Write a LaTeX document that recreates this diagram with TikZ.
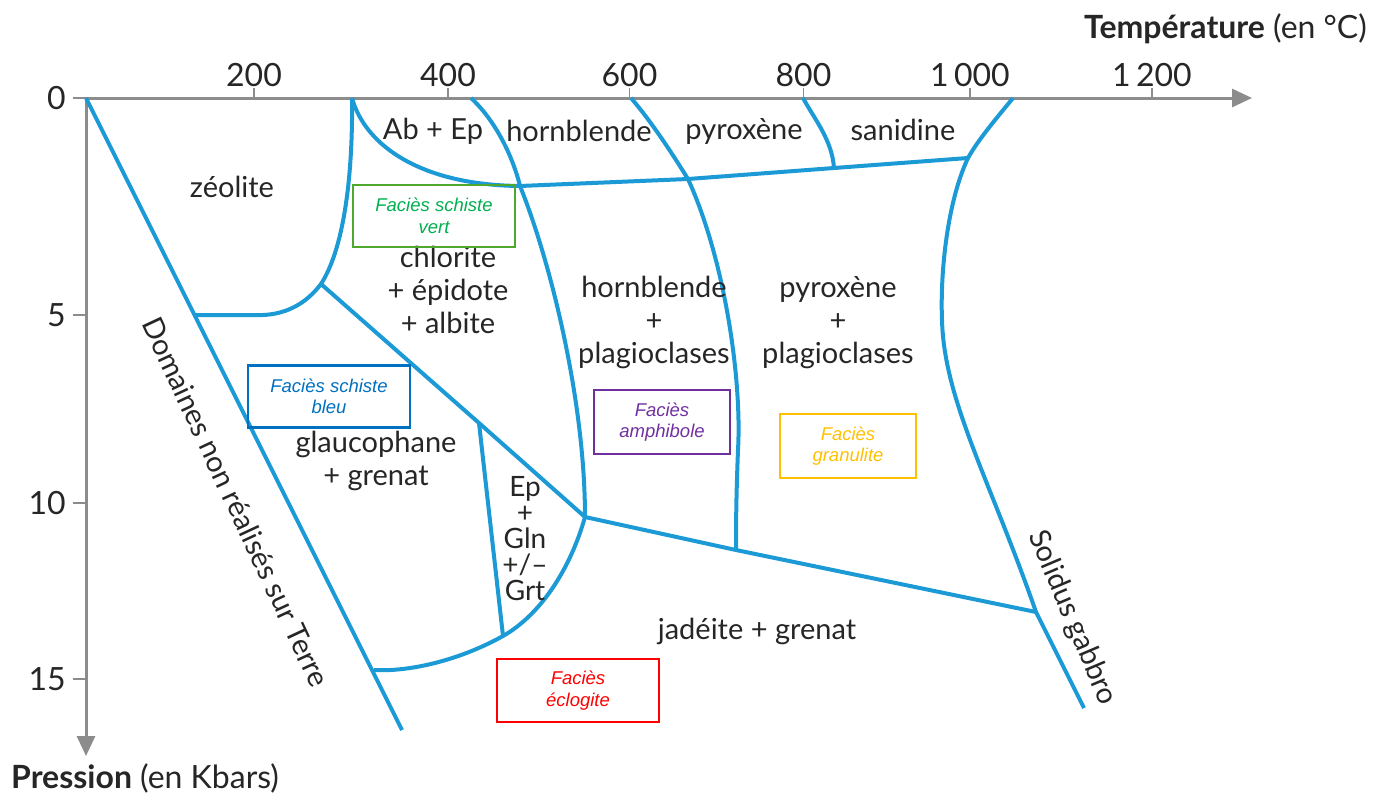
\documentclass[tikz,border=0pt]{standalone}
\usepackage{fontspec}
\setmainfont{Lato}
\newfontfamily\faciesfont{Liberation Sans}
\usetikzlibrary{arrows.meta}
\definecolor{bound}{HTML}{1B9AD6}
\definecolor{axisgray}{HTML}{8C8C8C}
\definecolor{fgreen}{HTML}{00B050}
\definecolor{fgreenbox}{HTML}{4EA72E}
\definecolor{fblue}{HTML}{0070C0}
\definecolor{fpurple}{HTML}{7030A0}
\definecolor{fyellow}{HTML}{FFC000}
\definecolor{fred}{HTML}{FF0000}
\tikzset{
  axisline/.style={draw=axisgray, line width=3pt, -{Triangle[length=20pt,width=18pt]}},
  tickmark/.style={draw=axisgray, line width=1.5pt},
  ticklabel/.style={font=\fontsize{32}{36}\selectfont, text=black!85, inner sep=0pt},
  axistitle/.style={font=\fontsize{32}{38}\selectfont, text=black!85, inner sep=0pt},
  boundary/.style={draw=bound, line width=4pt, line join=round},
  zone/.style={font=\fontsize{29}{33}\selectfont, text=black!85, align=center, inner sep=0pt},
  faciesbox/.style={draw=#1, line width=2.5pt, text=#1, minimum width=162pt, minimum height=62pt,
    font=\faciesfont\itshape\fontsize{18.5}{21.5}\selectfont, align=center, inner sep=0pt},
}
\begin{document}
\begin{tikzpicture}[x=1pt, y=-1pt]
\useasboundingbox (0,0) rectangle (1400,796);

% axes
\coordinate (O) at (86,98);
\coordinate (Tend) at (1252,98);
\coordinate (Pend) at (86,756);
\draw[axisline] (O) -- (Tend);
\draw[axisline] (O) -- (Pend);

% temperature ticks
\foreach \x/\t in {254/200, 448/400, 629.5/600, 803.5/800, 970/1\,000, 1152/1\,200} {
  \draw[tickmark] (\x,98) -- (\x,88);
  \node[ticklabel, anchor=base] at (\x,86) {\t};
}
% pressure ticks
\foreach \y/\t in {98/0, 315/5, 503/10, 679/15} {
  \draw[tickmark] (73,\y) -- (86,\y);
  \node[ticklabel, anchor=east] at (66,\y) {\t};
}
\node[axistitle, anchor=base west] (tlab) at (1084,38) {\textbf{Température} (en °C)};
\node[axistitle, anchor=base west] (plab) at (11,788) {\textbf{Pression} (en Kbars)};

% junctions of the facies boundaries
\coordinate (Z0) at (352,98);
\coordinate (J1) at (321,284);
\coordinate (Z5) at (194,315);
\coordinate (J2) at (479,423);
\coordinate (J3) at (585,517);
\coordinate (J4) at (503,636);
\coordinate (J5) at (374,670);
\coordinate (D1) at (402,730);
\coordinate (H0) at (471,98);
\coordinate (J6) at (520,186);
\coordinate (P0) at (631,98);
\coordinate (J7) at (688,179);
\coordinate (J8) at (736,550);
\coordinate (S0) at (803,98);
\coordinate (J9) at (834,168);
\coordinate (G0) at (1013,98);
\coordinate (J10) at (968,158);
\coordinate (J11) at (1036,612);
\coordinate (G1) at (1084,708);

% boundaries
\draw[boundary] (O) -- (D1);
\draw[boundary] (Z0) .. controls (353,180) and (343,250) .. (J1)
                     .. controls (305,305) and (285,314) .. (263,315) -- (Z5);
\draw[boundary] (Z0) .. controls (365,145) and (420,185) .. (J6);
\draw[boundary] (J6) -- (J7) -- (J9) -- (J10);
\draw[boundary] (H0) .. controls (500,125) and (515,165) .. (J6)
                     .. controls (550,260) and (585,400) .. (J3);
\draw[boundary] (J1) -- (J2) -- (J3);
\draw[boundary] (J2) -- (J4);
\draw[boundary] (J3) .. controls (570,570) and (540,615) .. (J4)
                     .. controls (460,660) and (410,672) .. (J5);
\draw[boundary] (J3) -- (J8) -- (J11);
\draw[boundary] (P0) .. controls (650,120) and (670,150) .. (J7)
                     .. controls (725,260) and (742,380) .. (738,450)
                     .. controls (736,500) and (736,530) .. (J8);
\draw[boundary] (S0) .. controls (815,120) and (832,140) .. (J9);
\draw[boundary] (G0) .. controls (995,120) and (978,140) .. (J10)
                     .. controls (948,200) and (940,270) .. (942,320)
                     .. controls (944,400) and (990,480) .. (J11) -- (G1);

% mineral assemblages
\node[zone] (abep) at (433,131) {Ab + Ep};
\node[zone] (hbl) at (579,131) {hornblende};
\node[zone] (px) at (744,131) {pyroxène};
\node[zone] (san) at (903,130) {sanidine};
\node[zone] (zeo) at (232,187) {zéolite};
\node[zone] (chl) at (448,290) {chlorite\\+ épidote\\+ albite};
\node[zone] (hblpl) at (654,322) {hornblende\\+\\plagioclases};
\node[zone] (pxpl) at (838,323) {pyroxène\\+\\plagioclases};
\node[zone] (glc) at (376,461) {glaucophane\\+ grenat};
\node[zone, font=\fontsize{28}{26}\selectfont] (epgln) at (525,539) {Ep\\+\\Gln\\+/–\\Grt};
\node[zone] (jad) at (757,631) {jadéite + grenat};
\node[zone, rotate=-65] (dom) at (236,502) {Domaines non réalisés sur Terre};
\node[zone, rotate=-67] (sol) at (1072,618) {Solidus gabbro};

% facies
\node[faciesbox=fgreen, draw=fgreenbox] (fsv) at (434,216) {Faciès schiste\\vert};
\node[faciesbox=fblue] (fsb) at (329,396.5) {Faciès schiste\\bleu};
\node[faciesbox=fpurple, minimum width=136pt, minimum height=64pt] (fam) at (662,422) {Faciès\\amphibole};
\node[faciesbox=fyellow, minimum width=136pt, minimum height=64pt] (fgr) at (848,446) {Faciès\\granulite};
\node[faciesbox=fred, minimum height=63pt] (fec) at (578,690.5) {Faciès\\éclogite};
\end{tikzpicture}
\end{document}
